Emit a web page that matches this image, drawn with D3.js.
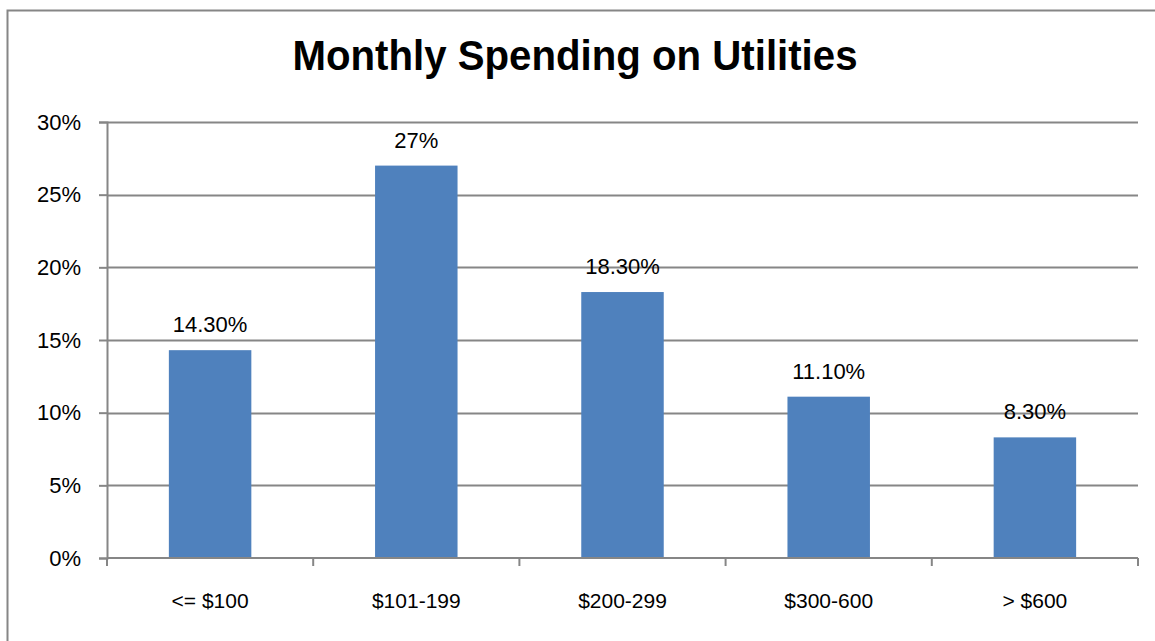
<!DOCTYPE html>
<html>
<head>
<meta charset="utf-8">
<script src="https://cdn.jsdelivr.net/npm/d3@7"></script>
<style>
  body { margin: 0; background: #fff; }
  svg { display: block; }
</style>
</head>
<body>
<div id="chart"></div>
<script>
const categories = ["<= $100", "$101-199", "$200-299", "$300-600", "> $600"];
const values = [14.3, 27, 18.3, 11.1, 8.3];
const valueLabels = ["14.30%", "27%", "18.30%", "11.10%", "8.30%"];
const yTicks = [0, 5, 10, 15, 20, 25, 30];

const W = 1155, H = 641;
const margin = { top: 122, right: 17, bottom: 83, left: 107 };
const width = W - margin.left - margin.right;
const height = H - margin.top - margin.bottom;

const svg = d3.select("#chart").append("svg")
  .attr("width", W)
  .attr("height", H);

// outer frame
svg.append("rect")
  .attr("x", 7.5).attr("y", 10.5)
  .attr("width", 1160).attr("height", 660)
  .attr("fill", "none")
  .attr("stroke", "#868686")
  .attr("stroke-width", 2);

svg.append("text")
  .attr("x", 575).attr("y", 70)
  .attr("text-anchor", "middle")
  .attr("textLength", 565)
  .attr("lengthAdjust", "spacingAndGlyphs")
  .style("font-family", "'Liberation Sans', Arial, sans-serif")
  .style("font-weight", "bold")
  .style("font-size", "42px")
  .text("Monthly Spending on Utilities");

const g = svg.append("g").attr("transform", `translate(${margin.left},${margin.top})`);

const x = d3.scaleBand().domain(categories).range([0, width]).paddingInner(0.6).paddingOuter(0.3);
const xOuter = d3.scaleBand().domain(categories).range([0, width]);
const y = d3.scaleLinear().domain([0, 30]).range([height, 0]);

const font = "'Liberation Sans', Arial, sans-serif";

// gridlines
g.selectAll(".grid").data(yTicks.filter(d => d > 0)).enter().append("line")
  .attr("x1", 0).attr("x2", width)
  .attr("y1", d => Math.round(y(d)) + 0.5).attr("y2", d => Math.round(y(d)) + 0.5)
  .attr("stroke", "#868686").attr("stroke-width", 2);

// y axis
const yAxis = g.append("g")
  .call(d3.axisLeft(y).tickValues(yTicks).tickFormat(d => d + "%").tickSize(8).tickPadding(18));
yAxis.select(".domain").attr("stroke", "#868686").attr("stroke-width", 2);
yAxis.selectAll(".tick line").attr("stroke", "#868686").attr("stroke-width", 2);
yAxis.selectAll("text").style("font-family", font).style("font-size", "22px").attr("fill", "#000");

// bars
g.selectAll(".bar").data(values).enter().append("rect")
  .attr("x", (d, i) => x(categories[i]))
  .attr("y", d => y(d))
  .attr("width", x.bandwidth())
  .attr("height", d => height - y(d))
  .attr("fill", "#4F81BD");

// x axis
const xAxis = g.append("g").attr("transform", `translate(0,${height})`);
xAxis.append("line").attr("x1", 0).attr("x2", width).attr("y1", 0).attr("y2", 0)
  .attr("stroke", "#868686").attr("stroke-width", 2);
const bounds = categories.map(c => xOuter(c)).concat([width]);
xAxis.selectAll(".xt").data(bounds).enter().append("line")
  .attr("x1", d => d).attr("x2", d => d).attr("y1", 0).attr("y2", 8)
  .attr("stroke", "#868686").attr("stroke-width", 2);
xAxis.selectAll(".xl").data(categories).enter().append("text")
  .attr("x", d => xOuter(d) + xOuter.bandwidth() / 2)
  .attr("y", 50)
  .attr("text-anchor", "middle")
  .style("font-family", font).style("font-size", "21px")
  .text(d => d);

// value labels
g.selectAll(".vl").data(values).enter().append("text")
  .attr("x", (d, i) => x(categories[i]) + x.bandwidth() / 2)
  .attr("y", d => y(d) - 18)
  .attr("text-anchor", "middle")
  .style("font-family", font).style("font-size", "22px")
  .text((d, i) => valueLabels[i]);
</script>
</body>
</html>
